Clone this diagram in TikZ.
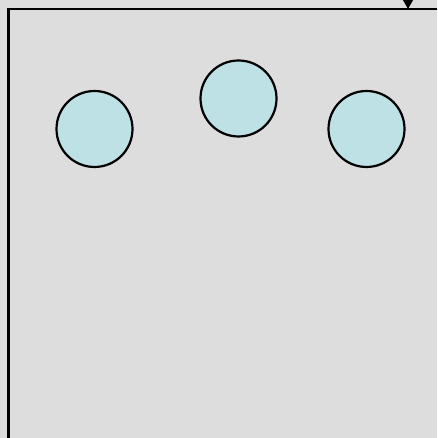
\documentclass[tikz,border=0pt]{standalone}
\usetikzlibrary{arrows.meta}
\definecolor{panelgray}{HTML}{DDDDDD}
\definecolor{ballcyan}{HTML}{BDE1E4}
\tikzset{
  ball/.style={circle, draw=black, line width=2.2pt, fill=ballcyan, minimum size=76pt, inner sep=0pt},
  frame/.style={line width=2.6pt}
}
\begin{document}
\begin{tikzpicture}[x=1pt,y=1pt]
        % Background
        \fill[panelgray] (0,0) rectangle (437,438);
        \useasboundingbox (0,0) rectangle (437,438);

        % Frame (top and left edges)
        \draw[frame] (437,429) -- (8.5,429) -- (8.5,0);

        % Balls
        \node[ball] (left) at (94.5,309) {};
        \node[ball] (middle) at (238.5,339.5) {};
        \node[ball] (right) at (366.5,309) {};

        % Incoming arrow at top right
        \coordinate (src) at (408,470);
        \coordinate (dst) at (408,429);
        \draw[line width=1pt, -{Triangle[width=11pt,length=10pt]}] (src) -- (dst);
    \end{tikzpicture}
\end{document}
